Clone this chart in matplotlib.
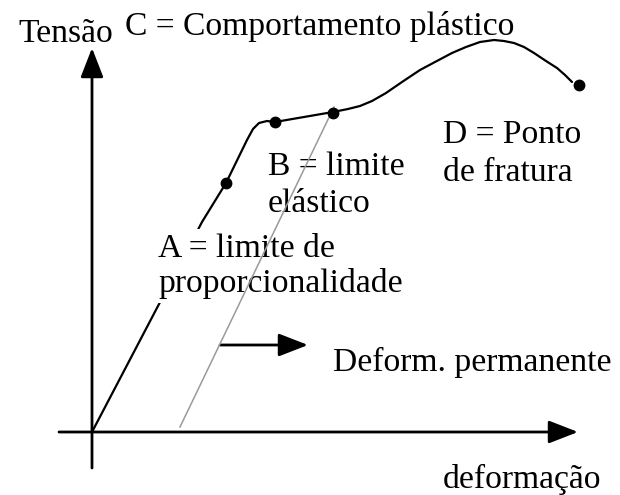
import matplotlib
matplotlib.use("Agg")
import matplotlib.pyplot as plt

# Drawing units: origin of the stress/strain axes at (0, 0), 1 unit ~ 1 px
# stress-strain curve
curve_x = [0, 110, 134, 155, 161, 167, 175, 183, 241, 256, 268, 280, 294,
           310, 328, 343, 360, 374, 388, 402, 412, 422, 432, 442, 454, 465, 473, 480]
curve_y = [0, 210, 249, 292, 303, 309, 311, 310, 320, 323, 326, 331, 339,
           350, 362, 370, 379, 385, 390, 392, 391, 389, 385, 379, 371, 364, 357, 350]

# marked points A, B (start of plateau), B (elastic limit), D (fracture)
dot_x = [134, 183, 241, 487]
dot_y = [249, 310, 319, 347]

# unloading line (permanent deformation)
unload_x = [88, 242]
unload_y = [5, 325]

FS = 24.2
FONT = "Liberation Serif"

fig = plt.figure(figsize=(6.2, 4.95), dpi=100)
ax = fig.add_axes([0, 0, 1, 1])
ax.set_xlim(-92, 528)
ax.set_ylim(-63, 432)
ax.axis("off")

# axes with arrow heads
arrow_kw = dict(arrowstyle="-|>,head_length=0.9,head_width=0.35", color="black",
                lw=2, shrinkA=0, shrinkB=0, mutation_scale=20)
ax.annotate("", xy=(0, 384), xytext=(0, -36), arrowprops=arrow_kw)
ax.annotate("", xy=(486, 0), xytext=(-33, 0), arrowprops=arrow_kw)

# curve, dots, unloading line
ax.plot(curve_x, curve_y, color="black", lw=1.6, zorder=2,
        solid_capstyle="round", solid_joinstyle="round")
ax.plot(dot_x, dot_y, "o", color="black", ms=7.5, zorder=5)
ax.plot(unload_x, unload_y, color="#9a9a9a", lw=1.1, zorder=4)

# permanent deformation arrow
ax.annotate("", xy=(216, 87), xytext=(128, 87), arrowprops=arrow_kw)

txt = dict(fontsize=FS, family=FONT, va="baseline", ha="left", zorder=3)
white = dict(facecolor="white", edgecolor="none", pad=3)
ax.text(-74, 390, "Tensão", **txt)
ax.text(33, 397, "C = Comportamento plástico", **txt)
ax.text(351, 289, "D = Ponto", **txt)
ax.text(351, 251, "de fratura", **txt)
ax.text(176, 257, "B = limite", **txt)
ax.text(176, 220, "elástico", **txt)
ax.text(66, 175, "A = limite de", bbox=white, **txt)
ax.text(66, 140, "proporcionalidade", bbox=white, **txt)
ax.text(241, 61, "Deform. permanente", **txt)
ax.text(351, -56, "deformação", **txt)

fig.savefig("out.png", dpi=100)
